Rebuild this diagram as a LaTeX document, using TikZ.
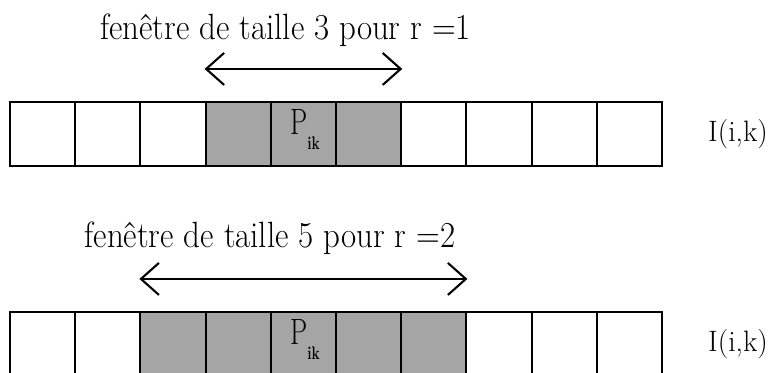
\documentclass[tikz,border=0pt]{standalone}
\usepackage{tikz}
\usetikzlibrary{arrows.meta, positioning, calc}
\definecolor{tramegris}{RGB}{165,165,165}

\newcommand{\pik}{P\raisebox{-10pt}{\fontsize{13}{13}\selectfont\bfseries ik}}

\begin{document}
\begin{tikzpicture}[
  case/.style={rectangle, draw, line width=1.5pt, minimum width=1.63cm, minimum height=1.6cm, inner sep=0pt},
  casegrise/.style={case, fill=tramegris},
  titre/.style={font=\fontsize{26}{28}\selectfont, anchor=base, xscale=0.9, transform shape},
  pixel/.style={font=\fontsize{26}{28}\selectfont, anchor=base west, xscale=0.75, transform shape, inner sep=0pt},
  etiquette/.style={font=\fontsize{21}{24}\selectfont},
  fleche/.style={<->, >={Straight Barb[length=4.5mm, width=8mm]}, line width=1.5pt},
]
\useasboundingbox (0,0) rectangle (19.275,9.325);

%% Rangee du haut : fenetre de taille 3
\foreach \i in {1,2,3,7,8,9,10}
  \node[case] (a\i) at ({0.25+1.63*(\i-0.5)}, 5.975) {};
\foreach \i in {4,5,6}
  \node[casegrise] (a\i) at ({0.25+1.63*(\i-0.5)}, 5.975) {};

\node[pixel] (pa) at ([xshift=-0.335cm, yshift=-0.025cm]a5.center) {\pik};
\node[etiquette] (ia) at (18.45, 5.975) {I(i,k)};

%% Fleche de la fenetre
\coordinate (ga) at ($(a4.north west)+(0,0.8)$);
\coordinate (da) at ($(a6.north east)+(0,0.8)$);
\draw[fleche] (ga) -- (da);
\node[titre] (ta) at (7.14, 8.34) {fenêtre de taille 3 pour r =1};

%% Rangee du bas : fenetre de taille 5
\foreach \i in {1,2,8,9,10}
  \node[case] (b\i) at ({0.25+1.63*(\i-0.5)}, 0.725) {};
\foreach \i in {3,...,7}
  \node[casegrise] (b\i) at ({0.25+1.63*(\i-0.5)}, 0.725) {};

\node[pixel] (pb) at ([xshift=-0.335cm, yshift=-0.025cm]b5.center) {\pik};
\node[etiquette] (ib) at (18.45, 0.725) {I(i,k)};

%% Fleche de la fenetre
\coordinate (gb) at ($(b3.north west)+(0,0.8)$);
\coordinate (db) at ($(b7.north east)+(0,0.8)$);
\draw[fleche] (gb) -- (db);
\node[titre] (tb) at (6.75, 3.125) {fenêtre de taille 5 pour r =2};

\end{tikzpicture}
\end{document}
